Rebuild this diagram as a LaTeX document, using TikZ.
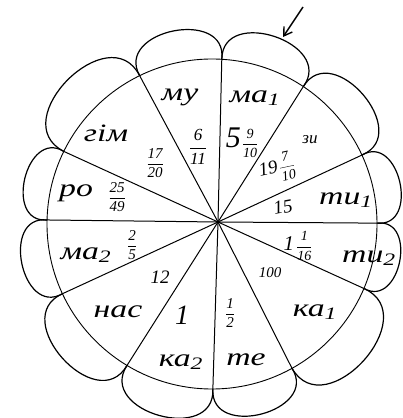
\documentclass[tikz,border=0pt]{standalone}
\usepackage{fontspec}
\usepackage{graphicx}
\setmainfont{Liberation Serif}
\usetikzlibrary{arrows.meta,calc}
\newcommand\myfr[2]{$\displaystyle\frac{\mbox{#1}}{\mbox{#2}}$}
\newcommand\wide[1]{\scalebox{1.35}[1]{#1}}
\begin{document}
\begin{tikzpicture}[x=1pt,y=1pt,
  edge/.style={line width=1pt},
  petal/.style={line width=1.2pt},
  syl/.style={font=\fontsize{25}{25}\selectfont\itshape, inner sep=0pt},
  num/.style={font=\fontsize{15}{15}\selectfont\itshape, inner sep=0pt}]
\useasboundingbox (0,0) rectangle (402,418);
\coordinate (O) at (212,194);
\coordinate (S) at (218,196);
\draw[line width=0.9pt] (O) circle[radius=165];
\foreach \n/\a in {1/86.6,2/56.4,3/24.7,4/0.3,5/-23,6/-61,7/-89.7,8/-121,9/-155,10/178.6,11/153.9,12/116}{
  \coordinate (P\n) at ($(O)+(\a:165)$);
  \draw[edge] (S) -- (P\n);
}
\foreach \a/\b in {116/86.6, 86.6/56.4, 56.4/24.7, 24.7/0.3, 0.3/-23, -23/-61, -61/-89.7, -89.7/-121, -121/-155, -155/-181.4, 178.6/153.9, 153.9/116}{
  \pgfmathsetmacro\m{(\a+\b)/2}
  \pgfmathsetmacro\oo{\m+18}
  \pgfmathsetmacro\ii{\m-18}
  \draw[petal] ($(O)+(\a:165)$) to[out=\oo, in=\ii, looseness=1.6] ($(O)+(\b:165)$);
}
\coordinate (arT) at (303,411);
\coordinate (arH) at (283,381);
\draw[line width=1.4pt, -{Straight Barb[length=8pt,width=10pt]}] (arT) -- (arH);

\node[syl] (mu) at (180,321) {\wide{му}};
\node[num, font=\fontsize{17}{17}\selectfont\itshape] (f611) at (198,271) {\myfr{6}{11}};
\node[syl] (ma1) at (255,320) {\wide{ма\textsubscript{1}}};
\node[num] (m5) at (242,275) {\fontsize{30}{30}\selectfont 5\kern1pt\fontsize{14}{14}\selectfont\myfr{9}{10}};
\node[num, font=\fontsize{17}{17}\selectfont\itshape] (zy) at (310,278) {зи};
\node[num, rotate=12] (m19) at (277,250) {\fontsize{19}{19}\selectfont 19\kern1pt\fontsize{14}{14}\selectfont\myfr{7}{10}};
\node[syl] (ty1) at (346,218) {\wide{ти\textsubscript{1}}};
\node[num, font=\fontsize{19}{19}\selectfont\itshape, rotate=10] (n15) at (283,211) {15};
\node[num] (m1) at (298,172) {\fontsize{21}{21}\selectfont 1\kern2pt\fontsize{14}{14}\selectfont\myfr{1}{16}};
\node[syl] (ty2) at (369,160) {\wide{ти\textsubscript{2}}};
\node[num] (n100) at (270,145) {100};
\node[syl] (ka1) at (315,106) {\wide{ка\textsubscript{1}}};
\node[num] (f12) at (230,105) {\myfr{1}{2}};
\node[syl] (te) at (246,58) {\wide{те}};
\node[num, font=\fontsize{28}{28}\selectfont\itshape] (n1) at (182,103) {1};
\node[syl] (ka2) at (181,56) {\wide{ка\textsubscript{2}}};
\node[syl] (nas) at (118,106) {\wide{нас}};
\node[num, font=\fontsize{19}{19}\selectfont\itshape] (n12) at (160,141) {12};
\node[syl] (ma2) at (86,163) {\wide{ма\textsubscript{2}}};
\node[num] (f25) at (132,173) {\myfr{2}{5}};
\node[syl] (ro) at (76,225) {\wide{ро}};
\node[num] (f2549) at (117,221) {\myfr{25}{49}};
\node[syl] (gim) at (106,285) {\wide{гім}};
\node[num] (f1720) at (155,255) {\myfr{17}{20}};
\end{tikzpicture}
\end{document}
